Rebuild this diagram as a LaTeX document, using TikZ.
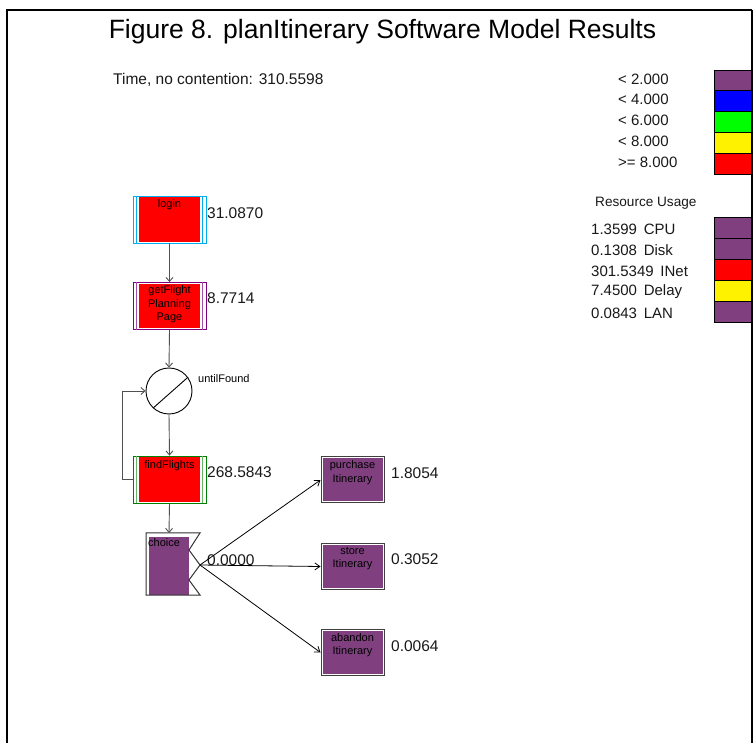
\documentclass[tikz,border=0pt]{standalone}
\usepackage{fontspec}
\setmainfont{Liberation Sans}
\usetikzlibrary{arrows.meta}
\definecolor{mpurple}{RGB}{128,64,128}
\definecolor{bpurple}{RGB}{128,0,128}
\definecolor{bgreen}{RGB}{0,128,0}
\definecolor{agray}{RGB}{80,80,80}
\newcommand{\redinside}[2]{%
  \fill[red] ([shift={(6,1.5)}]#1.north west) rectangle ([shift={(-6.5,-1.5)}]#1.south east);
  \draw[#2,line width=0.7pt] ([xshift=4pt]#1.north west) -- ([xshift=4pt]#1.south west)
    ([xshift=-4.5pt]#1.north east) -- ([xshift=-4.5pt]#1.south east);}
\newcommand{\purpinside}[1]{%
  \fill[mpurple] ([shift={(2,2)}]#1.north west) rectangle ([shift={(-2,-2)}]#1.south east);}
\begin{document}
\begin{tikzpicture}[x=1pt,y=-1pt,
  rbox/.style={rectangle, draw=#1, fill=white, line width=0.9pt, minimum width=73pt, minimum height=47pt, inner sep=0pt},
  pbox/.style={rectangle, draw=black!75, fill=white, line width=1pt, minimum width=63pt, minimum height=46pt, inner sep=0pt},
  lab/.style={font=\fontsize{11}{13.5}\selectfont, align=center, inner sep=0pt, text=black},
  val/.style={font=\fontsize{15.5}{18}\selectfont, anchor=west, inner sep=0pt, text=black!90},
  ltext/.style={font=\fontsize{15}{18}\selectfont, anchor=west, inner sep=0pt, text=black!90},
  lbox/.style={rectangle, draw=black, line width=0.8pt, minimum width=38pt, inner sep=0pt},
  conn/.style={draw=agray, line width=0.9pt, -{Straight Barb[length=4pt,width=7pt]}},
  fan/.style={draw=black, line width=0.8pt, -{Straight Barb[length=5pt,width=7pt]}}
]
\useasboundingbox (0,0) rectangle (756,743);
\fill[white] (0,0) rectangle (756,743);

% frame
\draw[line width=1.3pt] (7,743) -- (7,10) -- (752,10);

% title
\node[font=\fontsize{26.5}{30}\selectfont, inner sep=0pt] (title) at (382.5,32) {Figure 8. planItinerary Software Model Results};
\node[font=\fontsize{15.5}{18}\selectfont, anchor=west, inner sep=0pt, text=black!90] (time) at (113,80) {Time, no contention: 310.5598};

% legend
\node[lbox, minimum height=20pt, fill=mpurple] (lg1) at (733,80.5) {};
\node[lbox, minimum height=21pt, fill=blue]    (lg2) at (733,101) {};
\node[lbox, minimum height=21pt, fill=green]   (lg3) at (733,122) {};
\node[lbox, minimum height=21pt, fill=yellow]  (lg4) at (733,143) {};
\node[lbox, minimum height=21pt, fill=red]     (lg5) at (733,164) {};
\node[ltext] (lt1) at (618,79) {< 2.000};
\node[ltext] (lt2) at (618,99.5) {< 4.000};
\node[ltext] (lt3) at (618,120.5) {< 6.000};
\node[ltext] (lt4) at (618,141) {< 8.000};
\node[ltext] (lt5) at (618,162) {>= 8.000};

\node[font=\fontsize{13.6}{16}\selectfont, anchor=west, inner sep=0pt, text=black!90] (ru) at (595,203) {Resource Usage};
\node[lbox, minimum height=21pt, fill=mpurple] (r1) at (733,227.5) {};
\node[lbox, minimum height=21pt, fill=mpurple] (r2) at (733,248.5) {};
\node[lbox, minimum height=21pt, fill=red]     (r3) at (733,270) {};
\node[lbox, minimum height=21pt, fill=yellow]  (r4) at (733,291) {};
\node[lbox, minimum height=21pt, fill=mpurple] (r5) at (733,312) {};
\node[ltext] (rt1) at (591,229) {1.3599\hspace{0.45em}CPU};
\node[ltext] (rt2) at (591,250) {0.1308\hspace{0.45em}Disk};
\node[ltext] (rt3) at (591,271) {301.5349\hspace{0.45em}INet};
\node[ltext] (rt4) at (591,292) {7.4500\hspace{0.45em}Delay};
\node[ltext] (rt5) at (591,313) {0.0843\hspace{0.45em}LAN};
\draw[line width=2pt] (752,10) -- (752,743);

% main nodes
\node[rbox=cyan] (login) at (169.5,219.5) {};
\redinside{login}{cyan}
\node[lab, below=4pt] at (login.north) {login};
\node[val] at (207,213) {31.0870};

\node[rbox=bpurple] (gfp) at (169.5,306) {};
\redinside{gfp}{bpurple!70}
\node[lab, below=3.5pt] at (gfp.north) {getFlight\\Planning\\Page};
\node[val] at (207,298) {8.7714};

\node[circle, draw, line width=0.9pt, minimum size=46pt, inner sep=0pt] (loopc) at (169,391) {};
\draw[line width=0.9pt] (loopc.227) -- (loopc.36);
\node[lab, anchor=west] at (198,379) {untilFound};

\node[rbox=bgreen] (ff) at (169.5,479.5) {};
\redinside{ff}{bgreen!60}
\node[lab, below=4.5pt] at (ff.north) {findFlights};
\node[val] at (207,472) {268.5843};

% choice shape
\coordinate (choicetip) at (200,565);
\coordinate (choicetop) at (169,533);
\fill[mpurple] (148.5,537) rectangle (189,595);
\draw[line width=1pt, draw=black!80] (146,533) -- (200,533) -- (189,550) -- (choicetip) -- (189,580) -- (200,595) -- (146,595) -- cycle;
\node[lab, anchor=north west] at (148,538) {choice};
\node[val] at (207,560) {0.0000};

\node[pbox] (pur) at (352.5,480) {};
\purpinside{pur}
\node[lab, below=4pt] at (pur.north) {purchase\\Itinerary};
\node[val] at (391,473) {1.8054};

\node[pbox] (sto) at (352.5,566.5) {};
\purpinside{sto}
\node[lab, below=4pt] at (sto.north) {store\\Itinerary};
\node[val] at (391,559) {0.3052};

\node[pbox] (aba) at (352.5,652.5) {};
\purpinside{aba}
\node[lab, below=4pt] at (aba.north) {abandon\\Itinerary};
\node[val] at (391,646) {0.0064};

% connectors
\draw[conn] (login.south) -- (gfp.north);
\draw[conn] (gfp.south) -- (loopc.north);
\draw[conn] (loopc.south) -- (ff.north);
\draw[conn] (ff.west) -- ++(-10,0) |- (loopc.west);
\draw[conn] (ff.south) -- (choicetop);
\draw[fan] (choicetip) -- (pur.west);
\draw[fan] (choicetip) -- (sto.west);
\draw[fan] (choicetip) -- (aba.west);
\end{tikzpicture}
\end{document}
